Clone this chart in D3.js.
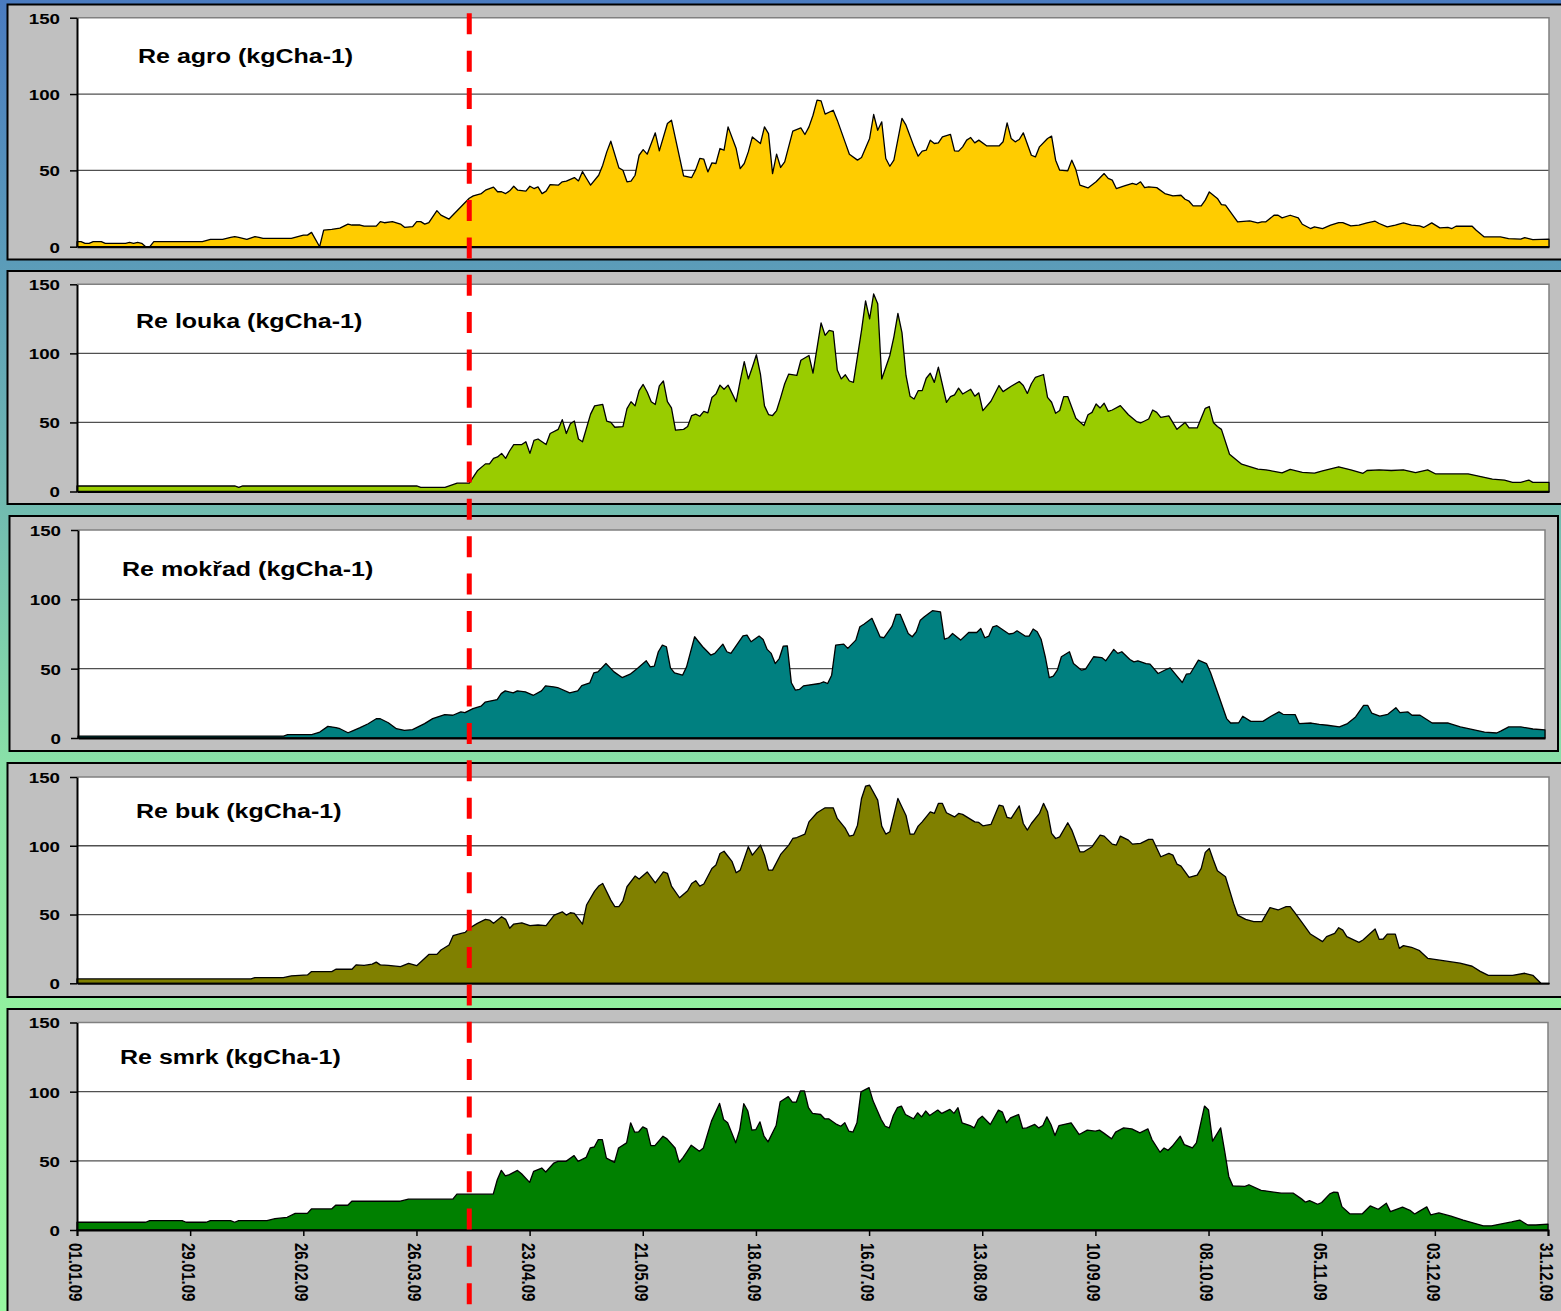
<!DOCTYPE html>
<html>
<head>
<meta charset="utf-8">
<script src="https://cdn.jsdelivr.net/npm/d3@7"></script>
<style>
  html, body { margin: 0; padding: 0; overflow: hidden; background: #fff; }
  text { font-family: "Liberation Sans", Arial, sans-serif; font-weight: bold; }
</style>
</head>
<body>
<svg id="chart" width="1561" height="1311"></svg>
<script>
// Daily ecosystem respiration, 2009: [day of year (0 = 1 Jan), value in kg C/ha]
const titles = ["Re agro (kgCha-1)", "Re louka (kgCha-1)", "Re mokřad (kgCha-1)", "Re buk (kgCha-1)", "Re smrk (kgCha-1)"];

const agro = [[0,3.3],[1,3.3],[2,2.2],[3,2.2],[4,3.3],[6,3.3],[7,2.2],[12,2.2],[13,2.8],[14,2.2],[15,2.8],[16,2.2],[17,0],[18,0],[19,3.3],[31,3.3],[33,4.8],[36,4.8],[38,6.1],[39,6.6],[40,6.1],[42,4.8],[44,6.6],[45,6.1],[46,5.5],[53,5.5],[56,7.6],[57,7.6],[58,9.4],[60,0],[61,10.9],[63,11.4],[65,12.2],[67,14.8],[68,14.2],[70,14.2],[71,13.5],[74,13.5],[75,16.4],[76,15.7],[78,16.4],[80,14.8],[81,12.7],[83,13.1],[84,16.4],[85,16.4],[86,14.8],[87,15.7],[89,23.6],[90,20.7],[92,18.1],[97,31.7],[98,33.3],[100,34.8],[101,37],[103,39],[104,36],[105,36],[106,34.8],[107,36.6],[108,39.6],[109,37],[111,36.4],[112,39.6],[113,38.1],[114,39.2],[115,34.8],[116,36.4],[117,40.7],[119,40.3],[120,42.5],[121,42.9],[123,45.3],[124,43.1],[125,49.2],[126,44.7],[127,40.3],[129,46.8],[130,53.4],[131,62.1],[132,69.1],[134,51.6],[135,50.1],[136,42.5],[137,42.9],[138,46.8],[139,59.9],[140,63.6],[141,60.6],[143,74.6],[144,62.8],[146,80.7],[147,82.9],[150,46.4],[152,45.3],[153,50.5],[154,57.8],[155,57.3],[156,49],[157,54.9],[158,54.5],[159,64.3],[160,63.2],[161,78.5],[163,64.3],[164,51.2],[165,54.5],[166,62.1],[167,71.9],[169,67.6],[170,78.5],[171,74.1],[172,47.9],[173,60.6],[174,51.9],[175,55.6],[177,75.7],[179,77.8],[180,73.5],[181,78.5],[182,86.1],[183,96],[184,95.5],[185,86.8],[187,89.4],[188,82.9],[190,68],[191,60.6],[193,56.7],[194,58.4],[196,70.9],[197,86.6],[198,76.3],[199,81.8],[200,57.8],[201,52.7],[202,56.7],[204,84],[205,79.6],[207,65.4],[208,59.3],[209,62.6],[210,63.2],[211,69.8],[212,67.6],[213,68],[214,71.9],[216,73.5],[217,62.8],[218,62.6],[219,65.4],[220,69.8],[221,71.5],[222,68],[223,69.8],[225,66],[228,66],[229,68.7],[230,81.1],[231,70.9],[232,68.7],[233,70.2],[234,74.6],[236,59.9],[237,58.8],[238,65.4],[240,70.9],[241,72.4],[242,56.7],[243,50.1],[245,49.7],[246,56.7],[247,50.5],[248,40.3],[250,38.5],[252,42.5],[254,47.9],[255,44.7],[256,43.6],[257,38.1],[259,39.8],[261,41.4],[262,40.7],[263,42.5],[264,38.7],[265,39.2],[267,38.7],[269,34.8],[271,33.3],[273,33.7],[274,31.1],[275,29.8],[276,26.7],[278,26.7],[279,30.5],[280,35.9],[282,31.6],[283,27.6],[284,27.2],[287,16.3],[290,16.9],[292,15.6],[293,16.3],[294,16.3],[296,20.6],[297,20.6],[298,18.9],[300,20.6],[302,18.9],[303,14.7],[305,11.9],[306,13],[308,11.9],[310,14.1],[312,15.8],[313,15.8],[315,13.6],[317,14.1],[319,15.6],[321,16.7],[322,15.2],[324,13],[326,14.1],[328,15.6],[330,14.1],[332,13.6],[333,12.6],[335,15.6],[337,12.3],[339,12.6],[340,11.9],[341,13.4],[345,13.4],[346,10.8],[348,6.4],[352,6.4],[354,5.3],[357,4.9],[358,6],[360,4.7],[364,4.9]];

const louka = [[0,4],[39,4],[40,3],[41,4],[84,4],[85,3],[91,3],[94,6],[97,6],[99,15],[101,20],[102,20],[103,24],[104,25],[105,27.6],[106,24],[107,29.5],[108,34],[110,34],[111,36],[112,27.6],[113,37],[114,38],[116,34],[117,42],[119,45],[120,52],[121,42],[122,49],[123,51],[124,38],[125,36],[127,56],[128,62],[130,63],[131,51],[132,50],[133,46.5],[135,47],[136,60],[137,65],[138,62],[139,73],[140,77.5],[141,72],[142,65],[143,63],[144,76.5],[145,80],[146,65],[147,60.5],[148,44.5],[150,45],[151,47],[152,55],[153,56],[154,54.5],[155,58],[156,57],[157,68],[158,70.5],[159,77],[160,74],[161,77],[163,65],[164,80],[165,94],[166,81.5],[167,90],[168,99],[169,85],[170,62],[171,55.7],[172,55],[173,58.6],[174,68],[175,78],[176,85],[178,84],[179,95],[181,98.5],[182,85.7],[184,122],[185,113],[186,116.6],[187,116],[188,88],[189,81.5],[190,84.5],[191,80],[192,79],[194,116.6],[195,138],[196,125],[197,143],[198,136],[199,81.5],[200,90],[201,98.5],[202,112],[203,129],[204,115],[205,84],[206,69],[207,67],[208,73],[209,73],[210,82],[211,85.6],[212,79],[213,90],[215,64.6],[216,68.7],[217,70],[218,74.8],[219,70.6],[221,74],[222,69],[223,71.4],[224,58.6],[226,65.3],[228,76.7],[229,72.3],[231,76.2],[233,79.6],[234,76.7],[235,71],[236,78],[237,82.7],[239,84.7],[240,68.2],[241,64.6],[242,56.6],[243,58.6],[244,68.7],[245,68.7],[247,53],[249,47.7],[250,55.6],[251,57.3],[252,63.4],[253,60.5],[254,63.9],[255,58],[256,59],[258,62.2],[260,55.6],[262,50.6],[263,49.6],[265,52.5],[266,59],[267,57.3],[268,53.7],[270,54.7],[272,45],[274,50],[275,46],[277,46],[279,60.2],[280,61.5],[281,50],[282,47],[283,45],[285,27],[288,19.8],[290,18],[292,16.2],[294,15.7],[298,13.5],[300,16],[303,13.8],[306,13.3],[308,15],[312,17.9],[315,15.7],[318,13.2],[319,15.2],[322,15.7],[325,15.2],[328,15.7],[331,13.7],[334,15.7],[336,12.7],[344,12.7],[346,11.5],[350,9],[353,8.3],[355,6.6],[357,6.6],[359,8.3],[360,6.6],[364,6.6]];

const mokrad = [[0,1.4],[51,1.4],[52,2.4],[58,2.4],[60,4.3],[62,8.4],[64,7.5],[65,6.7],[67,3.8],[68,5],[70,7.5],[72,10.3],[74,13.9],[75,13.9],[77,11],[79,6.7],[81,5.5],[83,6],[86,10.4],[88,14],[91,16.9],[93,16.4],[95,18.8],[96,18.3],[98,21.2],[100,22.9],[101,25.8],[104,27.7],[105,32],[106,34],[108,32.5],[109,34],[111,33.3],[113,30.8],[115,34],[116,37.6],[118,36.9],[119,36.4],[122,32.5],[124,34],[125,37.8],[127,39.8],[128,47],[129,47.7],[131,53.7],[133,47.7],[135,43.6],[137,46],[139,50.6],[141,55.7],[142,51.3],[143,51.8],[144,62.2],[145,67],[146,65.8],[147,50.6],[148,47],[150,45.3],[151,51.3],[153,73],[155,65.8],[157,59.8],[158,61],[160,67.7],[161,62.2],[162,61],[165,73.7],[166,74.2],[167,69.4],[169,73.5],[170,71],[171,63.9],[172,61],[173,53.7],[174,57.3],[175,66.3],[176,66.5],[177,39.8],[178,34.5],[179,35],[180,37.6],[184,39.3],[185,40.5],[186,39.3],[187,45.3],[188,67],[190,67.7],[191,64.6],[193,70.6],[194,80.2],[195,82],[197,86.3],[199,73],[200,72.3],[202,80.7],[203,89.2],[204,89.2],[206,75.4],[207,73],[208,76.6],[209,85],[210,87.5],[212,91.8],[214,91],[215,71.3],[216,72.3],[217,75.4],[218,73],[219,70.6],[221,76.1],[223,76.1],[224,79],[225,72.3],[226,73.5],[227,80.2],[228,81],[231,75],[232,75.4],[233,77.3],[235,73.5],[236,73.5],[237,78.6],[238,76.6],[239,71],[240,58.6],[241,43.6],[242,44.6],[243,48.9],[244,58.6],[246,62.2],[247,53.7],[249,48.9],[250,49.6],[252,58.6],[254,58],[255,55.7],[257,63.9],[258,61],[259,62.2],[261,56.6],[262,54.9],[263,55.7],[265,53.7],[266,53.3],[268,46.5],[270,49.4],[271,50.6],[273,43.6],[274,40],[275,46],[276,46.5],[278,56.1],[280,53.7],[281,47.2],[283,30.8],[285,14],[286,10.8],[288,11],[289,15.7],[291,12],[294,12],[296,15.7],[298,18.8],[299,17.1],[302,16.9],[303,10.4],[306,10.8],[308,9.9],[310,9.2],[313,8],[315,10.4],[317,15.2],[319,23.6],[320,23.6],[321,18],[323,15.7],[325,17.1],[327,21.9],[328,18.3],[330,18.8],[331,16.4],[333,16.4],[336,10.8],[340,10.8],[343,8],[349,4.3],[352,3.6],[353,5],[355,8],[358,8],[361,6.5],[364,5.8]];

const buk = [[0,3.2],[43,3.2],[44,4.1],[51,4.1],[53,5.4],[57,6.1],[58,8.5],[63,8.5],[64,10.2],[68,10.2],[69,13.4],[71,13],[73,13.9],[74,15.4],[75,13.4],[77,13],[80,12.1],[82,14.5],[84,12.8],[86,18.2],[87,21],[89,21],[90,24.2],[92,27.8],[93,34.6],[95,36.3],[96,37],[97,40],[99,43.6],[101,46.5],[102,46],[103,43.6],[105,48.4],[106,46.5],[107,40],[108,43.1],[110,44],[112,42],[114,42.4],[116,42],[118,49.6],[120,52],[121,49.6],[122,51.3],[123,50.8],[125,43.1],[126,56.9],[128,67],[129,70.7],[130,72.6],[132,60.5],[133,55.7],[134,55.7],[135,60],[136,70.2],[138,78],[139,75.8],[141,81],[143,73],[145,81],[146,80],[147,70.7],[149,62.2],[151,67.3],[152,72.6],[153,74.6],[154,70.7],[155,72.2],[157,83.5],[158,86],[159,94.4],[160,96],[162,88.4],[163,80.4],[164,82.3],[166,99.3],[167,93.2],[169,100.5],[170,93.2],[171,82.3],[172,82.3],[174,93.7],[176,100.5],[177,105.3],[178,106],[180,108.5],[181,117.4],[183,124],[185,127.6],[187,127.6],[188,119.9],[190,112.6],[191,107],[192,107.7],[193,115],[194,134.4],[195,143.3],[196,144],[198,133.2],[199,114.3],[200,108.5],[201,110.2],[203,134.4],[205,122],[206,108.5],[207,108.5],[208,114.3],[209,117.4],[211,124.7],[212,123.5],[213,130.8],[214,130.8],[215,124],[217,121],[218,123.5],[219,122.8],[222,117.4],[223,117],[224,114.5],[226,115.5],[228,129.5],[229,128.8],[230,120.6],[231,119.9],[233,129],[234,116.2],[235,111.4],[236,116.2],[238,123.5],[239,130.8],[240,124.7],[241,109],[242,105.3],[243,106.5],[245,116.7],[246,111.4],[248,95.6],[249,95.6],[251,99.3],[253,107.7],[254,107],[256,101.2],[257,100.5],[258,107],[260,104.1],[261,101.2],[263,101.7],[265,104.6],[266,104.6],[268,92],[270,94.4],[271,93.2],[272,86.7],[273,85.2],[275,77],[277,78.7],[278,83.5],[279,95.2],[280,98],[281,89.6],[282,81.8],[284,77.5],[286,58.1],[287,49.6],[289,46.5],[291,44.8],[293,44.8],[295,55],[297,53.3],[299,55.7],[300,55.7],[301,52],[303,44],[305,35.8],[308,30.3],[309,33.9],[311,36.3],[312,40.4],[313,38.7],[314,33.9],[317,29.8],[318,31.5],[321,39.5],[322,32],[323,32.2],[324,35.8],[326,35.8],[327,25.4],[328,27.4],[330,26.2],[332,23.7],[334,18.2],[337,16.8],[342,14.6],[345,12.4],[347,8.7],[349,5.8],[355,5.8],[358,7.3],[360,5.8],[362,0],[364,0]];

const smrk = [[0,5.6],[17,5.6],[18,6.8],[26,6.8],[27,5.6],[32,5.6],[33,6.8],[38,6.8],[39,5.6],[40,6.8],[47,6.8],[49,8.2],[52,9.2],[54,12],[57,12],[58,15.2],[63,15.2],[64,17.9],[67,17.9],[68,20.8],[80,20.8],[82,22.3],[93,22.3],[94,25.9],[103,25.9],[104,36.3],[105,43.1],[106,39.2],[107,40],[109,43.1],[110,40.7],[112,34.4],[113,42.4],[115,44.8],[116,41.9],[118,48.4],[119,49.6],[121,49.6],[123,53.8],[124,49.6],[126,52.5],[127,59.3],[128,60],[129,65.4],[130,65.4],[131,52],[133,48.9],[134,59.3],[136,63],[137,77.5],[138,70.7],[139,71],[140,74.6],[141,73.1],[142,61],[143,61],[145,67.8],[146,65.9],[148,59.3],[149,48.9],[150,52.5],[151,56.9],[152,61.3],[154,56.9],[155,59.3],[156,69],[157,78.7],[159,91.5],[160,79.9],[161,77.5],[163,63],[164,72.6],[165,91.3],[166,86],[167,72.2],[168,72.6],[169,78.2],[170,67.8],[171,63.7],[173,75.5],[174,92.7],[176,96.4],[177,92.5],[178,92.5],[179,100.5],[180,100.5],[181,88.4],[182,84.3],[184,83.5],[185,80.4],[186,80.4],[188,76.3],[189,75],[190,77.5],[191,71.4],[192,70.7],[193,77.5],[194,99.8],[196,102.9],[197,93.2],[199,79.9],[200,75],[201,73.8],[202,82.8],[203,88.4],[204,89.6],[205,83.5],[207,80.4],[208,84.7],[209,81.8],[210,86],[211,82.8],[213,86.7],[214,84.3],[216,87.2],[217,84.3],[218,88.4],[219,77.5],[221,75.5],[222,73.8],[223,79.9],[224,82.3],[226,76.3],[228,86.7],[229,85.2],[230,77.5],[231,81.1],[233,83.5],[234,73.4],[235,73.8],[237,76.3],[238,73.8],[239,75.5],[240,81.8],[241,76.3],[242,68.3],[243,75.5],[246,77.5],[248,69],[250,72.2],[252,71.4],[253,72.2],[254,70.2],[256,65.9],[257,70.7],[259,73.8],[261,73.1],[263,70.2],[265,73.1],[266,65.4],[268,56.2],[269,59.3],[270,57.6],[271,60.5],[273,67.8],[274,61.7],[276,59.3],[277,63],[279,89.6],[280,86.7],[281,64.2],[283,73.8],[284,56.9],[285,38.7],[286,31.9],[289,31.5],[290,32.7],[293,28.6],[294,28.3],[298,26.6],[301,26.6],[303,22.5],[304,20.1],[305,21.3],[307,18.6],[308,19.9],[310,26.1],[311,27.4],[312,27.1],[313,16.9],[315,11.6],[318,11.6],[320,17.4],[322,15],[324,19.4],[325,13.3],[328,16.5],[330,14],[331,11.6],[332,13.3],[334,16.7],[335,10.9],[337,12.3],[340,10],[343,7.2],[348,3],[350,3],[355,5.8],[357,7.2],[359,3.6],[361,3.6],[364,4.3]];

const yTickValues = [0, 50, 100, 150];
const xTickLabels = ["01.01.09", "29.01.09", "26.02.09", "26.03.09", "23.04.09", "21.05.09", "18.06.09",
                     "16.07.09", "13.08.09", "10.09.09", "08.10.09", "05.11.09", "03.12.09", "31.12.09"];
const markerLabel = "08.04.09";   // start of the growing season marker

// ---------- layout ----------
const W = 1561, H = 1311;
const STRETCH = 1.25;   // horizontal stretch applied to all lettering
const fills = ["#ffcc00", "#99cc00", "#008080", "#808000", "#008000"];
const seriesList = [agro, louka, mokrad, buk, smrk];
const layout = [
  { box: [7.5, 4.5, 1600, 255],  plot: [77, 17.7, 1549, 246.7],  title: [138, 62.7] },
  { box: [7.5, 271, 1600, 233],  plot: [77, 284.3, 1549, 491.5], title: [136, 328] },
  { box: [9.5, 516, 1548.5, 235], plot: [78, 530, 1545, 738],    title: [122, 575.7] },
  { box: [7.5, 763, 1600, 234],  plot: [77, 777, 1549, 983.3],   title: [136, 818.3] },
  { box: [7.5, 1009, 1600, 330], plot: [77, 1022.5, 1548, 1230], title: [120, 1064] }
];

const parseDate = d3.timeParse("%d.%m.%y");
const formatDate = d3.timeFormat("%d.%m.%y");
const yearStart = new Date(2009, 0, 1), yearEnd = new Date(2009, 11, 31);
const dayToDate = d => new Date(2009, 0, 1 + d);

const svg = d3.select("#chart");
const defs = svg.append("defs");
const grad = defs.append("linearGradient").attr("id", "bgGrad")
  .attr("x1", 0).attr("y1", 0).attr("x2", 0).attr("y2", 1);
[[0, "#4a7bc0"], [0.2, "#5b9cb9"], [0.39, "#72bcb0"], [0.58, "#89e0a8"], [0.77, "#92f09f"], [1, "#97f7a0"]]
  .forEach(([o, c]) => grad.append("stop").attr("offset", o).attr("stop-color", c));
svg.append("rect").attr("width", W).attr("height", H).attr("fill", "url(#bgGrad)");

let firstX = null;

layout.forEach((L, i) => {
  const [bx, by, bw, bh] = L.box;
  const [left, top, right, bottom] = L.plot;
  const g = svg.append("g");

  g.append("rect").attr("x", bx).attr("y", by).attr("width", bw).attr("height", bh)
    .attr("fill", "#c0c0c0").attr("stroke", "#000").attr("stroke-width", 2);

  const x = d3.scaleTime().domain([yearStart, yearEnd]).range([left, right]);
  const y = d3.scaleLinear().domain([0, 150]).range([bottom, top]);
  if (i === 0) firstX = x;

  g.append("rect").attr("x", left).attr("y", top)
    .attr("width", right - left).attr("height", bottom - top).attr("fill", "#fff");

  // horizontal gridlines
  g.selectAll("line.grid").data(yTickValues.filter(v => v > 0 && v < 150)).join("line")
    .attr("class", "grid")
    .attr("x1", left).attr("x2", right)
    .attr("y1", d => y(d)).attr("y2", d => y(d))
    .attr("stroke", "#505050").attr("stroke-width", 1.3);

  // plot frame (top and right)
  g.append("path").attr("d", `M${left},${top}H${right}V${bottom}`)
    .attr("fill", "none").attr("stroke", "#808080").attr("stroke-width", 1.5);

  // area
  const data = seriesList[i].map(([d, v]) => ({ date: dayToDate(d), value: v }));
  const area = d3.area().x(d => x(d.date)).y0(y(0)).y1(d => y(d.value));
  g.append("path").datum(data).attr("d", area)
    .attr("fill", fills[i]).attr("stroke", "#000").attr("stroke-width", 1.3)
    .attr("stroke-linejoin", "round");

  // y axis
  const yAxis = d3.axisLeft(y).tickValues(yTickValues).tickSize(7).tickSizeOuter(0).tickFormat(d3.format("d"));
  const ya = g.append("g").attr("transform", `translate(${left},0)`).call(yAxis);
  ya.select(".domain").attr("stroke", "#000").attr("stroke-width", 2);
  ya.selectAll(".tick line").attr("stroke", "#000").attr("stroke-width", 1.5);
  ya.selectAll(".tick text")
    .attr("x", -17 / STRETCH).attr("dy", "0.36em")
    .attr("transform", `scale(${STRETCH},1)`)
    .attr("font-family", "Liberation Sans, Arial, sans-serif")
    .attr("font-weight", "bold").attr("font-size", 15).attr("fill", "#000");

  // x axis line
  const xAxis = d3.axisBottom(x).tickSizeOuter(0);
  if (i === layout.length - 1) {
    xAxis.tickValues(xTickLabels.map(parseDate)).tickSize(6).tickFormat(formatDate);
  } else {
    xAxis.tickValues([]);
  }
  const xa = g.append("g").attr("transform", `translate(0,${bottom})`).call(xAxis);
  xa.select(".domain").attr("stroke", "#000").attr("stroke-width", 2);
  xa.selectAll(".tick line").attr("stroke", "#000").attr("stroke-width", 1.5);
  xa.selectAll(".tick text")
    .attr("x", 0).attr("y", 0).attr("dy", "0.35em")
    .attr("text-anchor", "start")
    .attr("transform", `translate(-2,13) scale(${STRETCH},1) rotate(90)`)
    .attr("font-family", "Liberation Sans, Arial, sans-serif")
    .attr("font-weight", "bold").attr("font-size", 15).attr("fill", "#000");

  // panel title
  g.append("text")
    .attr("transform", `translate(${L.title[0]},${L.title[1]}) scale(${STRETCH},1)`)
    .attr("font-size", 20).attr("fill", "#000")
    .text(titles[i]);
});

// vertical dashed marker across all panels
const mx = firstX(parseDate(markerLabel));
svg.append("line")
  .attr("x1", mx).attr("x2", mx).attr("y1", 13.3).attr("y2", H)
  .attr("stroke", "#ff0000").attr("stroke-width", 5)
  .attr("stroke-dasharray", "21,16.35");
</script>
</body>
</html>
